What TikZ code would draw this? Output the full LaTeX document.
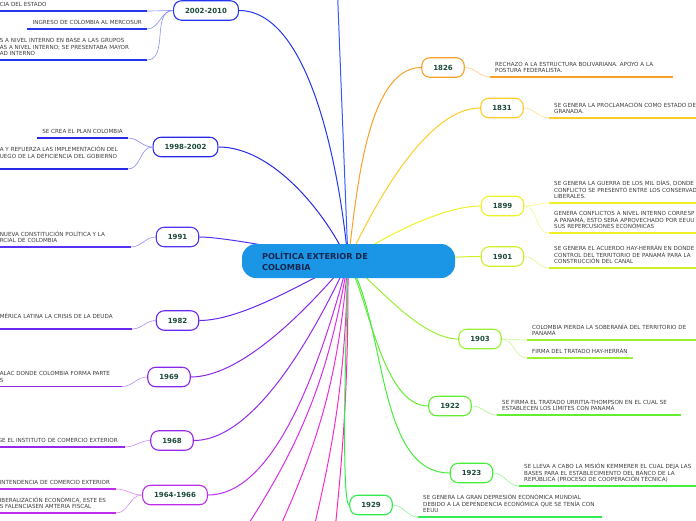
\documentclass[tikz,border=0pt]{standalone}
\usepackage{fontspec}
\setmainfont{DejaVu Sans}
\usepackage{tikz}
\usetikzlibrary{backgrounds}
\definecolor{rootblue}{RGB}{27,150,230}
\definecolor{rootink}{RGB}{22,38,79}
\definecolor{topicink}{RGB}{29,74,61}
\definecolor{leafink}{RGB}{60,60,60}
\definecolor{ctop}{RGB}{50,90,255}
\definecolor{c2002}{RGB}{35,55,240}
\definecolor{c1998}{RGB}{40,40,230}
\definecolor{c1991}{RGB}{85,50,245}
\definecolor{c1982}{RGB}{105,40,240}
\definecolor{c1969}{RGB}{135,40,235}
\definecolor{c1968}{RGB}{150,40,235}
\definecolor{c1964}{RGB}{190,45,235}
\definecolor{pinkA}{RGB}{220,45,235}
\definecolor{pinkB}{RGB}{240,45,215}
\definecolor{pinkC}{RGB}{250,45,200}
\definecolor{pinkD}{RGB}{255,40,170}
\definecolor{c1826}{RGB}{250,160,40}
\definecolor{c1831}{RGB}{252,205,40}
\definecolor{c1899}{RGB}{240,240,40}
\definecolor{c1901}{RGB}{205,240,40}
\definecolor{c1903}{RGB}{155,240,50}
\definecolor{c1922}{RGB}{100,238,50}
\definecolor{c1923}{RGB}{70,238,60}
\definecolor{c1929}{RGB}{50,235,80}

\begin{document}
\begin{tikzpicture}[x=1pt,y=1pt,
        root/.style={fill=rootblue,rounded corners=14pt,minimum width=213pt,
                     minimum height=34pt,text width=173pt,align=left,
                     inner xsep=20pt,text=rootink,
                     font=\fontsize{8.2}{11}\selectfont\bfseries},
        topic/.style={draw=#1,fill=white,line width=1.1pt,rounded corners=8pt,
                      minimum height=19.5pt,inner xsep=11.5pt,inner ysep=0pt,
                      text=topicink,font=\fontsize{7}{8}\selectfont\bfseries},
        leafR/.style={anchor=south west,align=left,inner xsep=5pt,
                      inner ysep=2.5pt,text=leafink,
                      execute at end node={\rule[-1.5pt]{0pt}{1.5pt}},
                      font=\fontsize{5.6}{6.6}\selectfont},
        leafL/.style={leafR,anchor=south east},
        branch/.style={draw=#1,line width=1pt},
        twig/.style={draw=#1!55,line width=0.6pt},
        uline/.style={draw=#1,line width=1.6pt}
      ]
        \useasboundingbox (0,0) rectangle (696,-520);
        \coordinate (hub) at (348,-261);
        \coordinate (ot) at (337,20);
        \coordinate (opA) at (238,-540);
        \coordinate (opB) at (274,-540);
        \coordinate (opC) at (311,-540);
        \coordinate (opD) at (334,-540);
        \node[root] (root) at (348.5,-261) {POLÍTICA EXTERIOR DE\\COLOMBIA};
        % left branches
        \node[topic=c2002] (t2002) at (206,-10.5) {2002-2010};
        \node[topic=c1998] (t1998) at (185.5,-147) {1998-2002};
        \node[topic=c1991] (t1991) at (177.5,-237) {1991};
        \node[topic=c1982] (t1982) at (177.5,-320.5) {1982};
        \node[topic=c1969] (t1969) at (169,-377) {1969};
        \node[topic=c1968] (t1968) at (172,-440.5) {1968};
        \node[topic=c1964] (t1964) at (175,-495) {1964-1966};
        % right branches
        \node[topic=c1826] (t1826) at (443,-67.5) {1826};
        \node[topic=c1831] (t1831) at (502,-108) {1831};
        \node[topic=c1899] (t1899) at (502.5,-206) {1899};
        \node[topic=c1901] (t1901) at (502.5,-256.5) {1901};
        \node[topic=c1903] (t1903) at (480,-339) {1903};
        \node[topic=c1922] (t1922) at (450,-406) {1922};
        \node[topic=c1923] (t1923) at (471.5,-473) {1923};
        \node[topic=c1929] (t1929) at (371,-505) {1929};
        % left leaves
        \node[leafL,text width=142pt] (a1) at (147,-11) {CIA DEL ESTADO};
        \node[leafL] (a2) at (147,-29) {INGRESO DE COLOMBIA AL MERCOSUR};
        \node[leafL,text width=142pt] (a3) at (147,-60)
          {S A NIVEL INTERNO EN BASE A LAS GRUPOS\\AS A NIVEL INTERNO; SE PRESENTABA MAYOR\\AD INTERNO};
        \node[leafL] (b1) at (128,-138) {SE CREA EL PLAN COLOMBIA};
        \node[leafL,text width=123pt] (b2) at (128,-169)
          {A Y REFUERZA LAS IMPLEMENTACIÓN DEL\\UEGO DE LA DEFICIENCIA DEL GOBIERNO\\ \mbox{}};
        \node[leafL,text width=126pt] (c1) at (131,-247)
          {NUEVA CONSTITUCIÓN POLÍTICA Y LA\\RCIAL DE COLOMBIA};
        \node[leafL,text width=127pt] (d1) at (132,-329)
          {MÉRICA LATINA LA CRISIS DE LA DEUDA\\ \mbox{}};
        \node[leafL,text width=117pt] (e1) at (122,-386.5)
          {ALAC DONDE COLOMBIA FORMA PARTE\\S};
        \node[leafL,text width=122pt] (f1) at (125,-447)
          {GE EL INSTITUTO DE COMERCIO EXTERIOR};
        \node[leafL,text width=111pt] (g1) at (116,-489)
          {INTENDENCIA DE COMERCIO EXTERIOR};
        \node[leafL,text width=111pt] (g2) at (116,-513)
          {IBERALIZACIÓN ECONÓMICA, ESTE ES\\S FALENCIASEN AMTERIA FISCAL};
        % right leaves
        \node[leafR,text width=173pt] (h1) at (490,-77)
          {RECHAZO A LA ESTRUCTURA BOLIVARIANA. APOYO A LA\\POSTURA FEDERALISTA.};
        \node[leafR,text width=174pt] (i1) at (549,-118)
          {SE GENERA LA PROCLAMACIÓN COMO ESTADO DE\\GRANADA.};
        \node[leafR,text width=174pt] (j1) at (549,-203)
          {SE GENERA LA GUERRA DE LOS MIL DÍAS, DONDE\\CONFLICTO SE PRESENTÓ ENTRE LOS CONSERVAD\\LIBERALES.};
        \node[leafR,text width=174pt] (j2) at (549,-233)
          {GENERA CONFLICTOS A NIVEL INTERNO CORRESP\\A PANAMÁ, ESTO SERA APROVECHADO POR EEUU\\SUS REPERCUSIONES ECONÓMICAS};
        \node[leafR,text width=174pt] (k1) at (549,-268)
          {SE GENERA EL ACUERDO HAY-HERRÁN EN DONDE\\CONTROL DEL TERRITORIO DE PANAMÁ PARA LA\\CONSTRUCCIÓN DEL CANAL};
        \node[leafR,text width=174pt] (m1) at (527,-340)
          {COLOMBIA PIERDA LA SOBERANÍA DEL TERRITORIO DE\\PANAMÁ};
        \node[leafR] (m2) at (527,-358) {FIRMA DEL TRATADO HAY-HERRÁN};
        \node[leafR,text width=174pt] (n1) at (497,-415)
          {SE FIRMA EL TRATADO URRITIA-THOMPSON EN EL CUAL SE\\ESTABLECEN LOS LÍMITES CON PANAMÁ};
        \node[leafR,text width=174pt] (p1) at (519,-486)
          {SE LLEVA A CABO LA MISIÓN KEMMERER EL CUAL DEJA LAS\\BASES PARA EL ESTABLECIMIENTO DEL BANCO DE LA\\REPÚBLICA (PROCESO DE COOPERACIÓN TÉCNICA)};
        \node[leafR,text width=174pt] (q1) at (418,-517)
          {SE GENERA LA GRAN DEPRESIÓN ECONÓMICA MUNDIAL\\DEBIDO A LA DEPENDENCIA ECONÓMICA QUE SE TENÍA CON\\EEUU};
        % main branches
        \begin{scope}[on background layer]
          \draw[branch=ctop] (hub) -- (ot);
          \draw[branch=c2002] (hub) to[out=95,in=0,looseness=.7] (t2002.east);
          \draw[branch=c1998] (hub) to[out=115,in=0,looseness=.8] (t1998.east);
          \draw[branch=c1991] (hub) to[out=170,in=0,looseness=.5] (t1991.east);
          \draw[branch=c1982] (hub) to[out=205,in=0,looseness=.7] (t1982.east);
          \draw[branch=c1969] (hub) to[out=230,in=0,looseness=.7] (t1969.east);
          \draw[branch=c1968] (hub) to[out=245,in=0,looseness=.7] (t1968.east);
          \draw[branch=c1964] (hub) to[out=255,in=0,looseness=.7] (t1964.east);
          \draw[branch=pinkA] (hub) to[bend left=12] (opA);
          \draw[branch=pinkB] (hub) to[bend left=10] (opB);
          \draw[branch=pinkC] (hub) to[bend left=6] (opC);
          \draw[branch=pinkD] (hub) to[bend left=3] (opD);
          \draw[branch=c1826] (hub) to[out=82,in=180,looseness=.7] (t1826.west);
          \draw[branch=c1831] (hub) to[out=65,in=180,looseness=.7] (t1831.west);
          \draw[branch=c1899] (hub) to[out=35,in=180,looseness=.7] (t1899.west);
          \draw[branch=c1901] (hub) to[out=0,in=180,looseness=.5] (t1901.west);
          \draw[branch=c1903] (hub) to[out=-40,in=180,looseness=.7] (t1903.west);
          \draw[branch=c1922] (hub) to[out=-62,in=180,looseness=.7] (t1922.west);
          \draw[branch=c1923] (hub) to[out=-58,in=180,looseness=.8] (t1923.west);
          \draw[branch=c1929] (hub) to[out=-90,in=180,looseness=.1] (t1929.west);
        \end{scope}
        % twigs to leaves
        \draw[twig=c2002] (t2002.west) to[out=180,in=0] (a1.south east);
        \draw[twig=c2002] (t2002.west) to[out=180,in=0] (a2.south east);
        \draw[twig=c2002] (t2002.west) to[out=180,in=0] (a3.south east);
        \draw[twig=c1998] (t1998.west) to[out=180,in=0] (b1.south east);
        \draw[twig=c1998] (t1998.west) to[out=180,in=0] (b2.south east);
        \draw[twig=c1991] (t1991.west) to[out=180,in=0] (c1.south east);
        \draw[twig=c1982] (t1982.west) to[out=180,in=0] (d1.south east);
        \draw[twig=c1969] (t1969.west) to[out=180,in=0] (e1.south east);
        \draw[twig=c1968] (t1968.west) to[out=180,in=0] (f1.south east);
        \draw[twig=c1964] (t1964.west) to[out=180,in=0] (g1.south east);
        \draw[twig=c1964] (t1964.west) to[out=180,in=0] (g2.south east);
        \draw[twig=c1826] (t1826.east) to[out=0,in=180] (h1.south west);
        \draw[twig=c1831] (t1831.east) to[out=0,in=180] (i1.south west);
        \draw[twig=c1899] (t1899.east) to[out=0,in=180] (j1.south west);
        \draw[twig=c1899] (t1899.east) to[out=0,in=180] (j2.south west);
        \draw[twig=c1901] (t1901.east) to[out=0,in=180] (k1.south west);
        \draw[twig=c1903] (t1903.east) to[out=0,in=180] (m1.south west);
        \draw[twig=c1903] (t1903.east) to[out=0,in=180] (m2.south west);
        \draw[twig=c1922] (t1922.east) to[out=0,in=180] (n1.south west);
        \draw[twig=c1923] (t1923.east) to[out=0,in=180] (p1.south west);
        \draw[twig=c1929] (t1929.east) to[out=0,in=180] (q1.south west);
        % underlines
        \draw[uline=c2002] (a1.south west) -- (a1.south east);
        \draw[uline=c2002] (a2.south west) -- (a2.south east);
        \draw[uline=c2002] (a3.south west) -- (a3.south east);
        \draw[uline=c1998] (b1.south west) -- (b1.south east);
        \draw[uline=c1998] (b2.south west) -- (b2.south east);
        \draw[uline=c1991] (c1.south west) -- (c1.south east);
        \draw[uline=c1982] (d1.south west) -- (d1.south east);
        \draw[uline=c1969] (e1.south west) -- (e1.south east);
        \draw[uline=c1968] (f1.south west) -- (f1.south east);
        \draw[uline=c1964] (g1.south west) -- (g1.south east);
        \draw[uline=c1964] (g2.south west) -- (g2.south east);
        \draw[uline=c1826] (h1.south west) -- (h1.south east);
        \draw[uline=c1831] (i1.south west) -- (i1.south east);
        \draw[uline=c1899] (j1.south west) -- (j1.south east);
        \draw[uline=c1899] (j2.south west) -- (j2.south east);
        \draw[uline=c1901] (k1.south west) -- (k1.south east);
        \draw[uline=c1903] (m1.south west) -- (m1.south east);
        \draw[uline=c1903] (m2.south west) -- (m2.south east);
        \draw[uline=c1922] (n1.south west) -- (n1.south east);
        \draw[uline=c1923] (p1.south west) -- (p1.south east);
        \draw[uline=c1929] (q1.south west) -- (q1.south east);
      \end{tikzpicture}
\end{document}
